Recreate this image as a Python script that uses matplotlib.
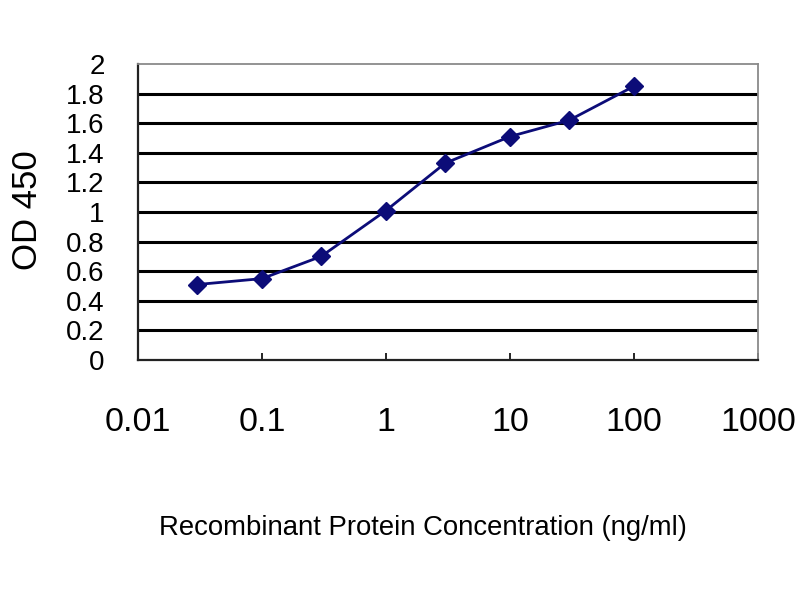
import matplotlib
matplotlib.use("Agg")
import matplotlib.pyplot as plt
from matplotlib import font_manager
from matplotlib.ticker import FixedLocator, NullLocator

# concentration (ng/ml) and OD 450 readings
conc = [0.03, 0.1, 0.3, 1, 3, 10, 30, 100]
od450 = [0.51, 0.55, 0.70, 1.01, 1.33, 1.51, 1.62, 1.85]

xticks = [0.01, 0.1, 1, 10, 100, 1000]
xticklabels = ["0.01", "0.1", "1", "10", "100", "1000"]
yticks = [0, 0.2, 0.4, 0.6, 0.8, 1, 1.2, 1.4, 1.6, 1.8, 2]
yticklabels = ["0", "0.2", "0.4", "0.6", "0.8", "1", "1.2", "1.4", "1.6", "1.8", "2"]

names = {f.name for f in font_manager.fontManager.ttflist}
narrow = "Liberation Sans Narrow" if "Liberation Sans Narrow" in names else "Liberation Sans"
xfs = 27 if narrow == "Liberation Sans Narrow" else 24.5

fig = plt.figure(figsize=(8, 6), dpi=100)
ax = fig.add_axes([0.1725, 0.4, 0.775, 0.4933])

ax.set_xscale("log")
ax.set_xlim(0.01, 1000)
ax.set_ylim(0, 2)

for y in yticks[1:-1]:
    ax.axhline(y, color="black", linewidth=2.2, zorder=1)

ax.plot(conc, od450, color="#0c0c78", linewidth=2, marker="D",
        markersize=9, markerfacecolor="#0c0c78", markeredgecolor="#0c0c78", zorder=3)

ax.xaxis.set_major_locator(FixedLocator(xticks))
ax.xaxis.set_minor_locator(NullLocator())
ax.set_xticklabels(xticklabels, fontfamily=narrow, fontsize=xfs)
ax.tick_params(axis="x", direction="in", length=5, width=1.2, pad=34)

ax.set_yticks(yticks)
ax.set_yticklabels(yticklabels, fontfamily=narrow, fontsize=20)
ax.tick_params(axis="y", length=0, pad=24)

for side in ["left", "bottom"]:
    ax.spines[side].set_color("#222222")
    ax.spines[side].set_linewidth(1.6)
for side in ["top", "right"]:
    ax.spines[side].set_color("#8a8a8a")
    ax.spines[side].set_linewidth(1.3)

fig.text(0.529, 0.12, "Recombinant Protein Concentration (ng/ml)",
         ha="center", va="center", fontfamily="Liberation Sans", fontsize=19.8)
fig.text(0.034, 0.65, "OD 450", rotation=90, ha="center", va="center",
         fontfamily="Liberation Sans", fontsize=25)

fig.savefig("out.png", dpi=100, facecolor="white")
